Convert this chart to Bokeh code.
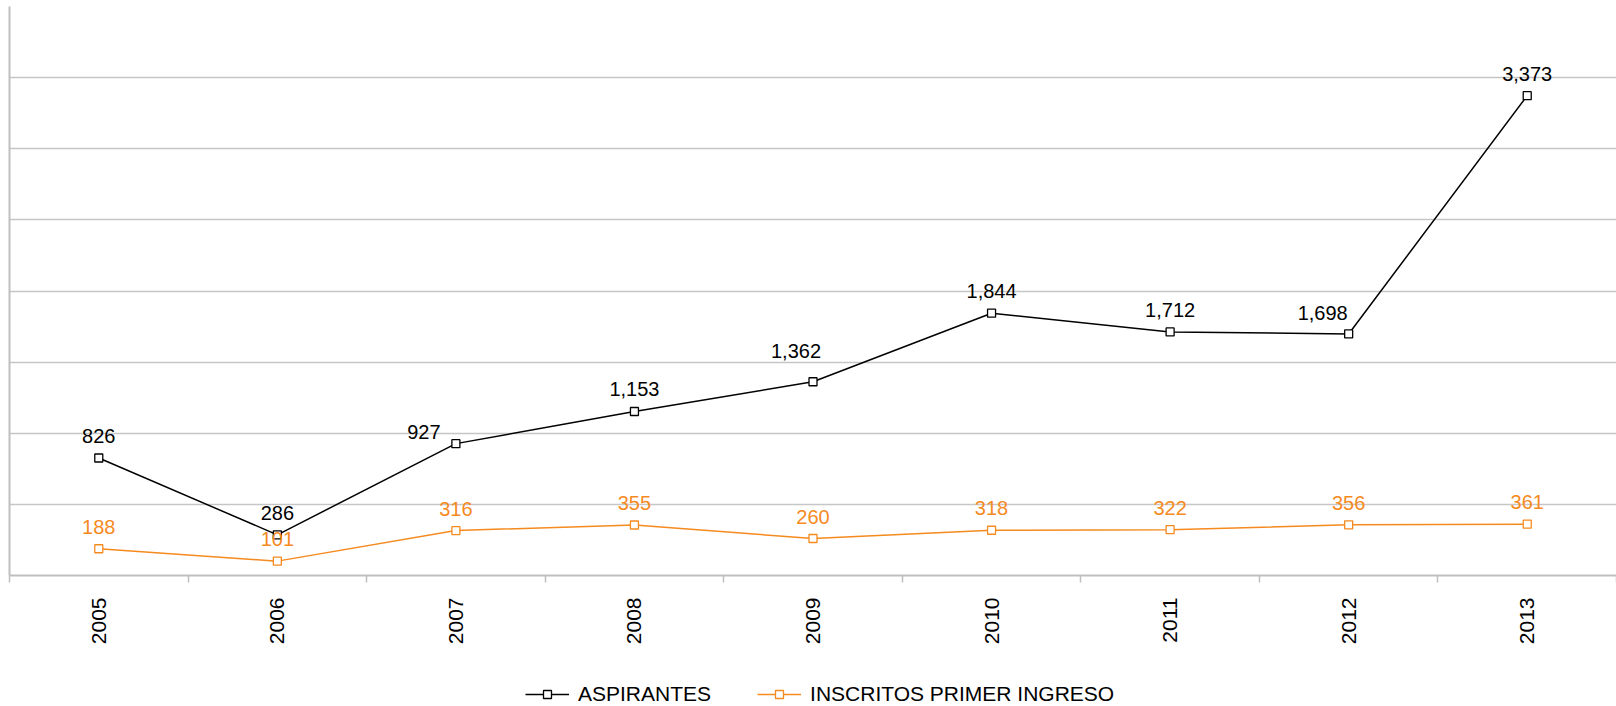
import math
from bokeh.plotting import figure
from bokeh.layouts import column
from bokeh.models import (ColumnDataSource, Range1d, FixedTicker, LabelSet,
                          Legend, LegendItem)
from bokeh.embed import file_html
from bokeh.resources import INLINE
from bokeh.core.properties import value

# ---- data ----
years = ["2005", "2006", "2007", "2008", "2009", "2010", "2011", "2012", "2013"]
aspirantes = [826, 286, 927, 1153, 1362, 1844, 1712, 1698, 3373]
inscritos = [188, 101, 316, 355, 260, 318, 322, 356, 361]
y_ticks = [0, 500, 1000, 1500, 2000, 2500, 3000, 3500, 4000]
series_names = ["ASPIRANTES", "INSCRITOS PRIMER INGRESO"]

# ---- label nudges (screen pixels, style only) ----
asp_dx = [0, 0, -32, 0, -17, 0, 0, -26, 0]
asp_dy = [15, 15, 5, 15, 24, 15, 15, 14, 15]
ins_dx = [0] * len(years)
ins_dy = [15] * len(years)

BLACK = "#000000"
ORANGE = "#F58A1F"
GRID = "#C6C6C6"
AXIS = "#BFBFBF"
FONT = "Liberation Sans"

xs = [i + 0.5 for i in range(len(years))]
src = ColumnDataSource(dict(
    x=xs, asp=aspirantes, ins=inscritos,
    asp_lbl=[f"{v:,}" for v in aspirantes],
    ins_lbl=[f"{v:,}" for v in inscritos],
    asp_dx=asp_dx, asp_dy=asp_dy, ins_dx=ins_dx, ins_dy=ins_dy,
))

p = figure(width=1616, height=666,
           x_range=Range1d(0, len(years)), y_range=Range1d(y_ticks[0], y_ticks[-1]),
           output_backend="svg", toolbar_location=None,
           min_border_left=9, min_border_right=0, min_border_top=6,
           min_border_bottom=91)
p.outline_line_color = None
p.background_fill_color = "white"
p.border_fill_color = "white"

# x axis: labels at centers, tick marks at category boundaries (minor ticks)
xa = p.xaxis[0]
xa.ticker = FixedTicker(ticks=xs, minor_ticks=list(range(len(years) + 1)))
xa.major_label_overrides = {x: y for x, y in zip(xs, years)}
xa.major_tick_out = 0
xa.major_tick_in = 0
xa.minor_tick_out = 7
xa.minor_tick_in = 0
xa.minor_tick_line_color = AXIS
xa.minor_tick_line_width = 1.5
xa.axis_line_color = AXIS
xa.axis_line_width = 2
xa.major_label_orientation = math.pi / 2
xa.major_label_text_font = FONT
xa.major_label_text_font_size = "21px"
xa.major_label_text_color = "black"
xa.major_label_standoff = 15

# y axis: line only
ya = p.yaxis[0]
ya.ticker = FixedTicker(ticks=[])
ya.major_tick_out = 0
ya.major_tick_in = 0
ya.minor_tick_out = 0
ya.minor_tick_in = 0
ya.major_label_standoff = 0
ya.axis_line_color = AXIS
ya.axis_line_width = 2

p.xgrid.visible = False
p.ygrid.ticker = FixedTicker(ticks=y_ticks)
p.ygrid.grid_line_color = GRID
p.ygrid.grid_line_width = 1.3

# series
p.line("x", "asp", source=src, line_color=BLACK, line_width=1.5)
p.scatter("x", "asp", source=src, marker="square", size=8,
          fill_color="white", line_color=BLACK, line_width=1.3)
p.line("x", "ins", source=src, line_color=ORANGE, line_width=1.5)
p.scatter("x", "ins", source=src, marker="square", size=8,
          fill_color="white", line_color=ORANGE, line_width=1.3)

for col, dx, dy, color in (("asp", "asp_dx", "asp_dy", BLACK),
                           ("ins", "ins_dx", "ins_dy", ORANGE)):
    p.add_layout(LabelSet(x="x", y=col, text=col + "_lbl", source=src,
                          x_offset=dx, y_offset=dy,
                          text_align="center", text_baseline="alphabetic",
                          text_font=value(FONT), text_font_size="20px",
                          text_color=color))

# ---- legend strip (separate figure below the chart) ----
# its renderers use the same data, but the view range is set off the data so
# only the legend is visible
lf = figure(width=1616, height=40, x_range=Range1d(-2, -1), y_range=Range1d(-2, -1),
            output_backend="svg", toolbar_location=None,
            x_axis_location=None, y_axis_location=None,
            min_border_left=0, min_border_right=0, min_border_top=0,
            min_border_bottom=0)
lf.outline_line_color = None
lf.grid.visible = False
items = []
for name, col, color in zip(series_names, ("asp", "ins"), (BLACK, ORANGE)):
    lr = lf.line("x", col, source=src, line_color=color, line_width=1.5)
    sr = lf.scatter("x", col, source=src, marker="square", size=8,
                    fill_color="white", line_color=color, line_width=1.3)
    items.append(LegendItem(label=name, renderers=[lr, sr]))

legend = Legend(items=items, location=(516, 0), orientation="horizontal",
                glyph_width=44, glyph_height=20, label_standoff=9, spacing=46,
                padding=0, margin=0, border_line_color=None,
                background_fill_alpha=0,
                label_text_font=FONT, label_text_font_size="21px",
                label_text_color="black")
lf.add_layout(legend)

layout = column(p, lf, spacing=0)
open("out.html", "w").write(file_html(layout, INLINE, title="Aspirantes e inscritos"))
